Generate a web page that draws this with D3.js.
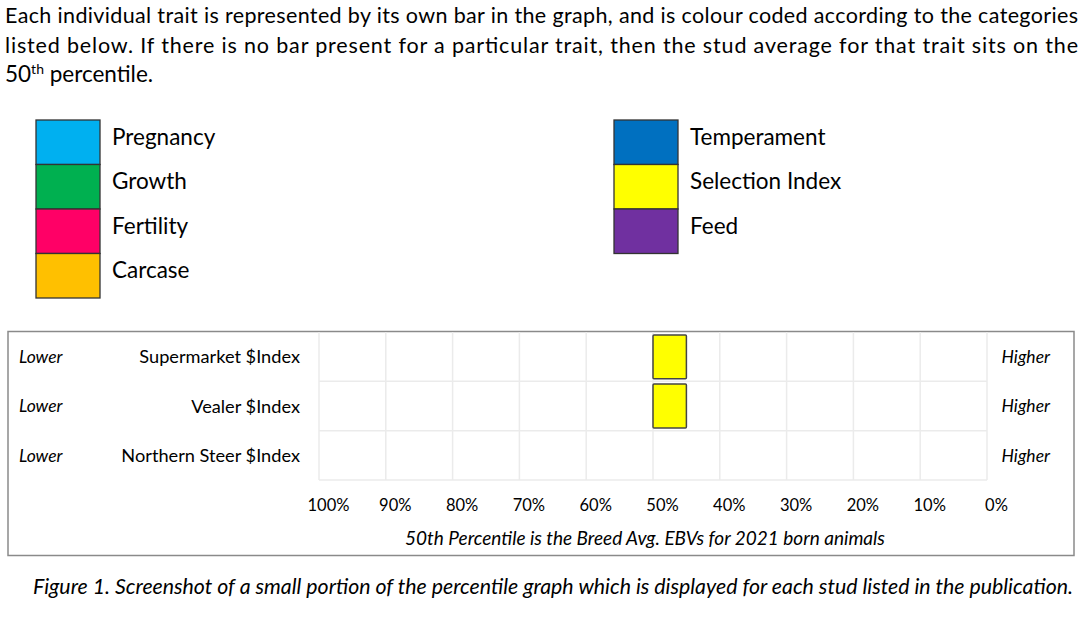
<!DOCTYPE html>
<html>
<head>
<meta charset="utf-8">
<script src="https://cdn.jsdelivr.net/npm/d3@7"></script>
<style>
  body { margin: 0; background: #fff; }
  text { font-family: Lato, "Open Sans", sans-serif; fill: #000; }
</style>
</head>
<body>
<div id="vis"></div>
<script>
// page geometry
var width = 1080;
var height = 623;

// data
var introLines = [
  "Each individual trait is represented by its own bar in the graph, and is colour coded according to the categories",
  "listed below. If there is no bar present for a particular trait, then the stud average for that trait sits on the"
];
var legendLeft = ["Pregnancy", "Growth", "Fertility", "Carcase"];
var legendLeftColors = ["#00B0F0", "#00B050", "#FF0066", "#FFC000"];
var legendRight = ["Temperament", "Selection Index", "Feed"];
var legendRightColors = ["#0070C0", "#FFFF00", "#7030A0"];

var traits = ["Supermarket $Index", "Vealer $Index", "Northern Steer $Index"];
var traitValues = [45, 45, null];   // percentile; null = sits on the 50th
var traitColors = ["#FFFF00", "#FFFF00", "#FFFF00"];
var baseline = 50;
var tickValues = [100, 90, 80, 70, 60, 50, 40, 30, 20, 10, 0];
var noteText = "50th Percentile is the Breed Avg. EBVs for 2021 born animals";
var captionText = "Figure 1. Screenshot of a small portion of the percentile graph which is displayed for each stud listed in the publication.";

var svg = d3.select("#vis")
  .append("svg")
  .attr("width", width)
  .attr("height", height);

// intro paragraph (justified lines)
svg.selectAll(".intro")
  .data(introLines)
  .enter().append("text")
  .attr("class", "intro")
  .attr("x", 5)
  .attr("y", function(d, i) { return 23 + i * 29.5; })
  .attr("textLength", 1073)
  .attr("lengthAdjust", "spacing")
  .style("font-size", "21.5px")
  .text(function(d) { return d; });

var last = svg.append("text")
  .attr("x", 5)
  .attr("y", 82)
  .style("font-size", "22.5px");
last.append("tspan").text("50");
last.append("tspan").attr("dy", -8).style("font-size", "14px").text("th");
last.append("tspan").attr("dy", 8).text(" percentile.");

// legend
var yLeg = d3.scaleBand()
  .domain(d3.range(4))
  .range([120, 298]);

function legend(names, colors, x0) {
  var g = svg.append("g");
  g.selectAll("rect")
    .data(names)
    .enter().append("rect")
    .attr("x", x0)
    .attr("y", function(d, i) { return yLeg(i); })
    .attr("width", 64)
    .attr("height", yLeg.bandwidth())
    .attr("fill", function(d, i) { return colors[i]; })
    .attr("stroke", "#333")
    .attr("stroke-width", 1.3);
  g.selectAll("text")
    .data(names)
    .enter().append("text")
    .attr("x", x0 + 76)
    .attr("y", function(d, i) { return yLeg(i) + yLeg.bandwidth() / 2; })
    .attr("dy", "0.1em")
    .style("font-size", "22.5px")
    .text(function(d) { return d; });
}
legend(legendLeft, legendLeftColors, 36);
legend(legendRight, legendRightColors, 614);

// chart box
svg.append("rect")
  .attr("x", 8)
  .attr("y", 331.5)
  .attr("width", 1066)
  .attr("height", 224)
  .attr("fill", "none")
  .attr("stroke", "#8a8a8a")
  .attr("stroke-width", 1.5);

var x = d3.scaleLinear()
  .domain([100, 0])
  .range([319, 987]);
var yRow = d3.scaleBand()
  .domain(traits)
  .range([332, 480]);
var yBar = d3.scaleBand()
  .domain(traits)
  .range([332, 480])
  .paddingInner(0.11)
  .paddingOuter(0.06);

var grid = svg.append("g")
  .attr("stroke", "#ebebeb")
  .attr("stroke-width", 1.5);
grid.selectAll(".v")
  .data(tickValues)
  .enter().append("line")
  .attr("x1", function(d) { return x(d); })
  .attr("x2", function(d) { return x(d); })
  .attr("y1", yRow.range()[0])
  .attr("y2", yRow.range()[1]);
grid.selectAll(".h")
  .data(traits)
  .enter().append("line")
  .attr("x1", x(100))
  .attr("x2", x(0))
  .attr("y1", function(d) { return yRow(d) + yRow.bandwidth(); })
  .attr("y2", function(d) { return yRow(d) + yRow.bandwidth(); });

// bars from the 50th percentile
svg.selectAll(".bar")
  .data(traits.filter(function(d, i) { return traitValues[i] != null; }))
  .enter().append("rect")
  .attr("class", "bar")
  .attr("x", function(d) { var v = traitValues[traits.indexOf(d)]; return Math.min(x(baseline), x(v)); })
  .attr("width", function(d) { var v = traitValues[traits.indexOf(d)]; return Math.abs(x(v) - x(baseline)); })
  .attr("y", function(d) { return yBar(d); })
  .attr("height", yBar.bandwidth())
  .attr("rx", 1)
  .attr("fill", function(d) { return traitColors[traits.indexOf(d)]; })
  .attr("stroke", "#444")
  .attr("stroke-width", 1.5);

// row labels
var rows = svg.append("g");
rows.selectAll(".lab")
  .data(traits)
  .enter().append("text")
  .attr("x", 300)
  .attr("y", function(d) { return yRow(d) + yRow.bandwidth() / 2; })
  .attr("dy", "0.36em")
  .attr("text-anchor", "end")
  .style("font-size", "18.2px")
  .text(function(d) { return d; });
rows.selectAll(".lo")
  .data(traits)
  .enter().append("text")
  .attr("x", 19)
  .attr("y", function(d) { return yRow(d) + yRow.bandwidth() / 2; })
  .attr("dy", "0.36em")
  .style("font-size", "17.5px")
  .style("font-style", "italic")
  .text("Lower");
rows.selectAll(".hi")
  .data(traits)
  .enter().append("text")
  .attr("x", 1050)
  .attr("y", function(d) { return yRow(d) + yRow.bandwidth() / 2; })
  .attr("dy", "0.36em")
  .attr("text-anchor", "end")
  .style("font-size", "17.5px")
  .style("font-style", "italic")
  .text("Higher");

// x axis labels
var axis = svg.append("g")
  .attr("transform", "translate(9," + 505 + ")")
  .call(d3.axisBottom(x).tickValues(tickValues).tickSize(0).tickPadding(0)
    .tickFormat(function(d) { return d + "%"; }));
axis.select(".domain").remove();
axis.selectAll("text")
  .attr("y", 0)
  .attr("dy", "0.36em")
  .style("font-family", "Lato, 'Open Sans', sans-serif")
  .style("font-size", "16.5px")
  .attr("fill", "#000");

svg.append("text")
  .attr("x", 645)
  .attr("y", 545)
  .attr("text-anchor", "middle")
  .style("font-size", "19px")
  .style("font-style", "italic")
  .text(noteText);

svg.append("text")
  .attr("x", 33)
  .attr("y", 594)
  .attr("textLength", 1040)
  .attr("lengthAdjust", "spacingAndGlyphs")
  .style("font-size", "20.5px")
  .style("font-style", "italic")
  .text(captionText);
</script>
</body>
</html>
